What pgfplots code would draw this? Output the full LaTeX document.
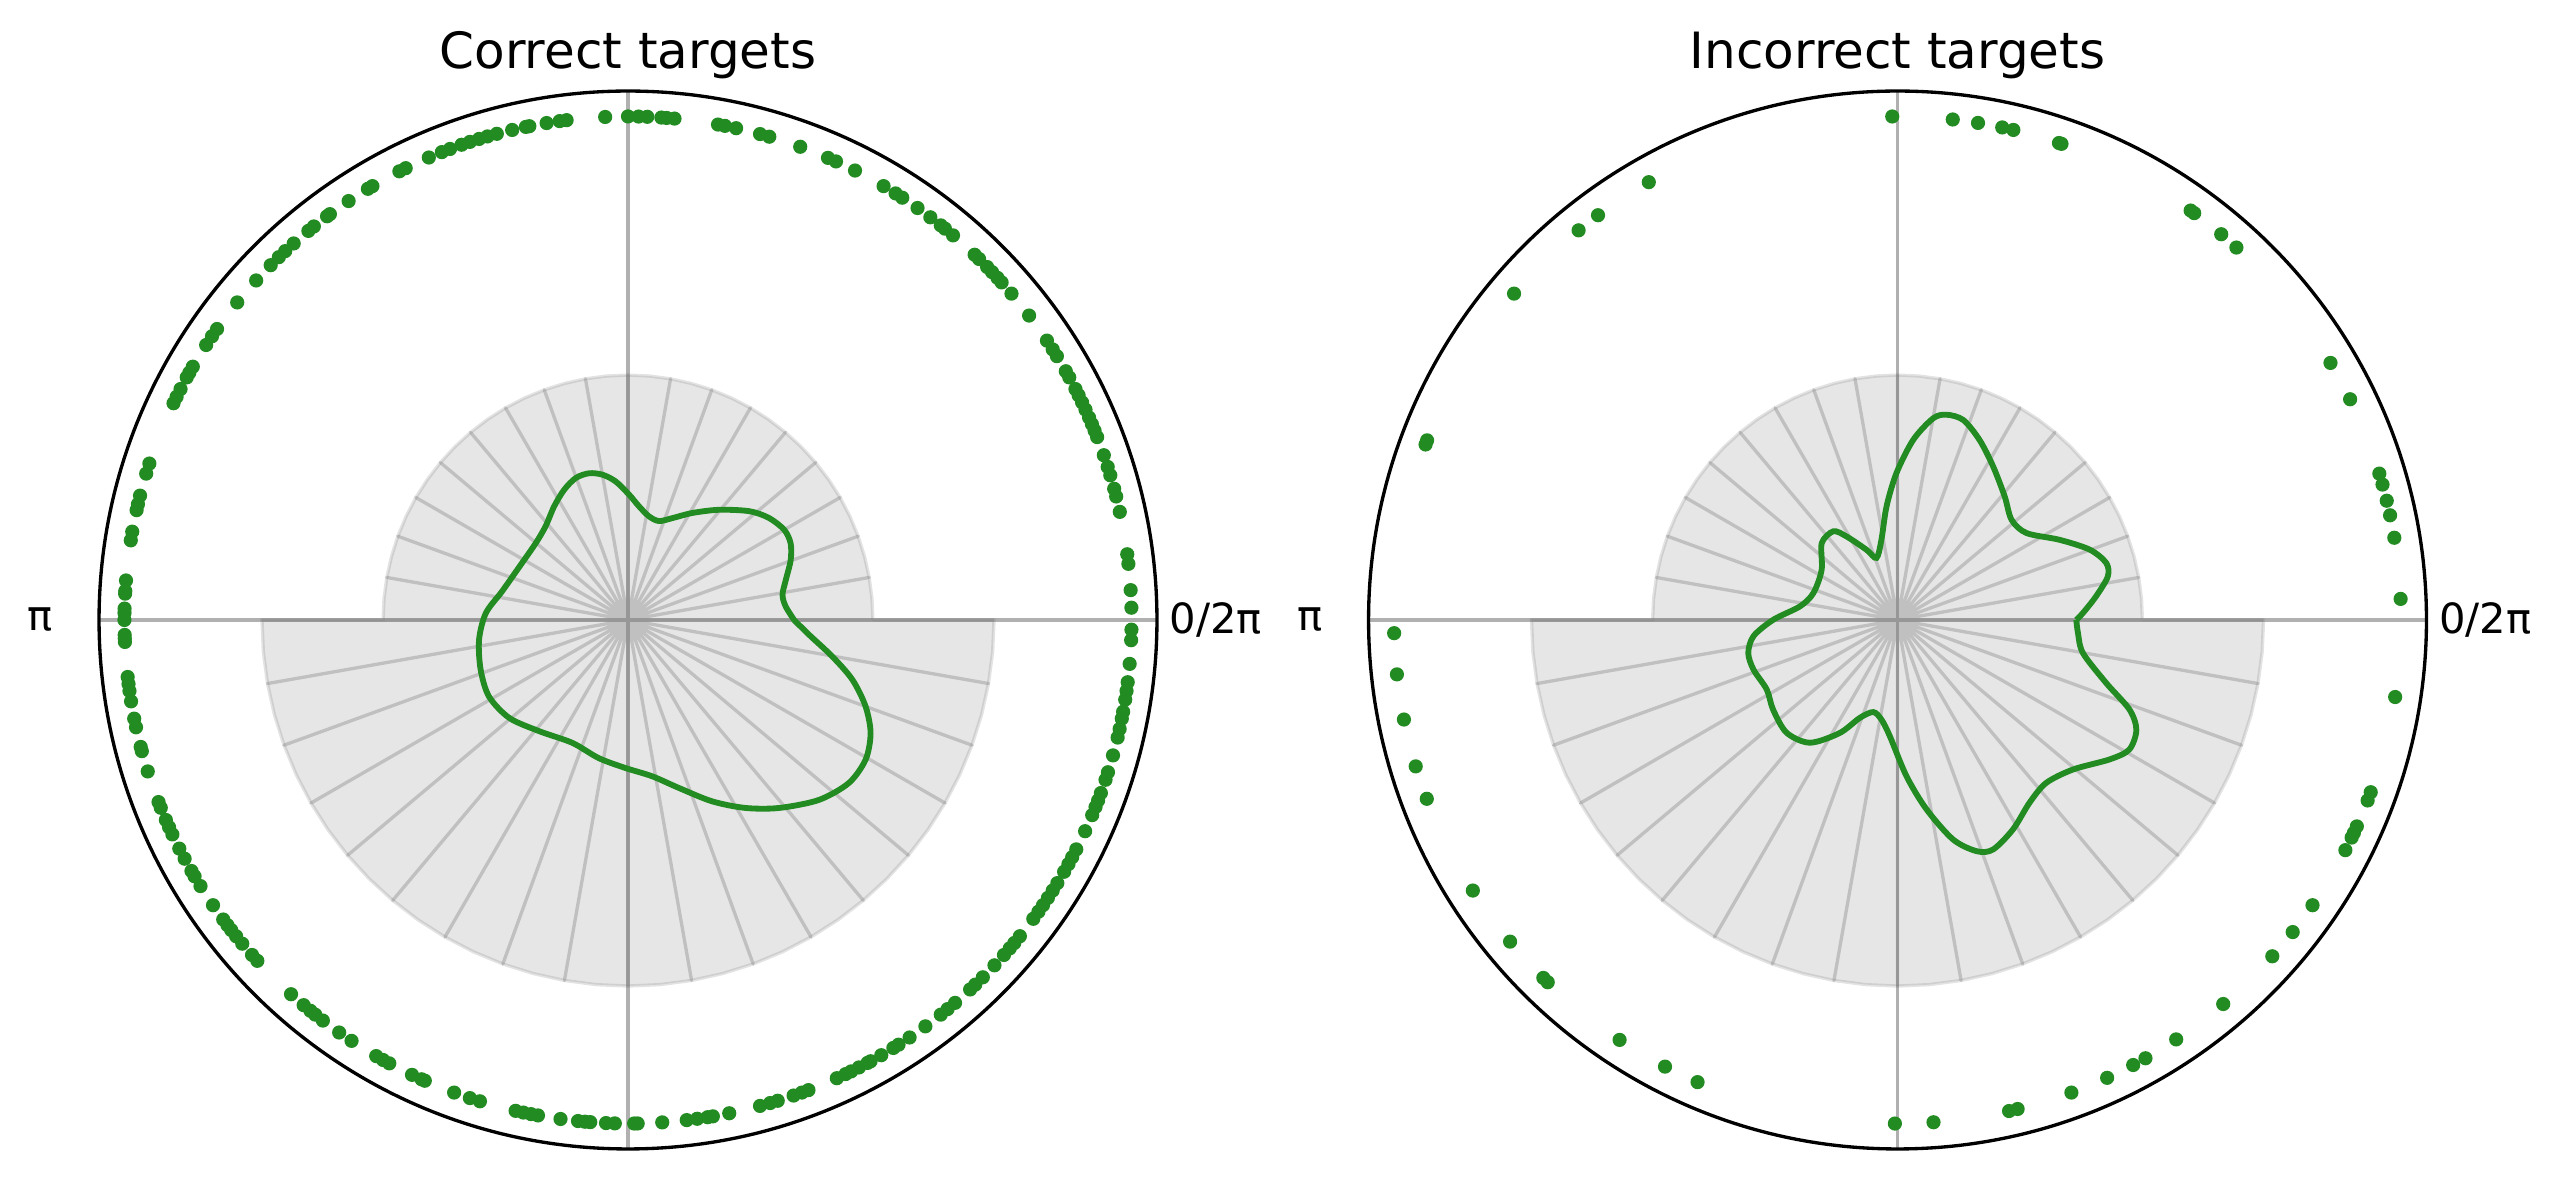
\documentclass[border=0pt]{standalone}
\usepackage{fontspec}
\setmainfont{DejaVu Sans}
\usepackage{pgfplots}
\usepackage{pgfplotstable}
\pgfplotsset{compat=1.18}
\usepgfplotslibrary{polar}

\definecolor{dotgreen}{HTML}{228B22}
\definecolor{gridgray}{HTML}{B0B0B0}

% Outline of the 36 histogram bars (10 degree bins): upper half height 0.463, lower half 0.692
\pgfplotstableread{
a r
0 0.463
5 0.463
10 0.463
15 0.463
20 0.463
25 0.463
30 0.463
35 0.463
40 0.463
45 0.463
50 0.463
55 0.463
60 0.463
65 0.463
70 0.463
75 0.463
80 0.463
85 0.463
90 0.463
95 0.463
100 0.463
105 0.463
110 0.463
115 0.463
120 0.463
125 0.463
130 0.463
135 0.463
140 0.463
145 0.463
150 0.463
155 0.463
160 0.463
165 0.463
170 0.463
175 0.463
180 0.463
180 0.692
185 0.692
190 0.692
195 0.692
200 0.692
205 0.692
210 0.692
215 0.692
220 0.692
225 0.692
230 0.692
235 0.692
240 0.692
245 0.692
250 0.692
255 0.692
260 0.692
265 0.692
270 0.692
275 0.692
280 0.692
285 0.692
290 0.692
295 0.692
300 0.692
305 0.692
310 0.692
315 0.692
320 0.692
325 0.692
330 0.692
335 0.692
340 0.692
345 0.692
350 0.692
355 0.692
360 0.692
360 0.463
}\barsoutline

% Bar edges: radial lines from the centre to each bin boundary
\pgfplotstableread{
a r
0 0
0 0.463
0 0
10 0.463
0 0
20 0.463
0 0
30 0.463
0 0
40 0.463
0 0
50 0.463
0 0
60 0.463
0 0
70 0.463
0 0
80 0.463
0 0
90 0.463
0 0
100 0.463
0 0
110 0.463
0 0
120 0.463
0 0
130 0.463
0 0
140 0.463
0 0
150 0.463
0 0
160 0.463
0 0
170 0.463
0 0
180 0.463
0 0
180 0.692
0 0
190 0.692
0 0
200 0.692
0 0
210 0.692
0 0
220 0.692
0 0
230 0.692
0 0
240 0.692
0 0
250 0.692
0 0
260 0.692
0 0
270 0.692
0 0
280 0.692
0 0
290 0.692
0 0
300 0.692
0 0
310 0.692
0 0
320 0.692
0 0
330 0.692
0 0
340 0.692
0 0
350 0.692
0 0
360 0.692
}\barspokes

\tikzset{phaselabel/.style={font=\fontsize{10}{12}\selectfont, anchor=center}}

\pgfplotsset{
  phaseplot/.style={
    scale only axis, width=253.9pt, height=253.9pt,
    anchor=center, clip=false,
    xmin=0, xmax=360, ymin=0, ymax=1,
    xtick={0,90,180,270}, xticklabels={,,,},
    xticklabel style={inner sep=0pt, text opacity=0},
    ytick=\empty,
    xmajorgrids, ymajorgrids=false,
    major grid style={draw=gridgray, line width=0.8pt},
    major tick length=0pt,
    axis line style={black, line width=0.8pt},
    y axis line style={draw=none},
    every axis title shift=0pt,
    title style={at={(0.5,1)}, anchor=base, yshift=5.5pt,
      font=\fontsize{12}{14}\selectfont},
  },
  barfill/.style={draw=none, fill=gray, fill opacity=0.2},
  barspoke/.style={draw=gray, draw opacity=0.37, line width=0.8pt, line join=round},
  barrim/.style={draw=gray, draw opacity=0.22, line width=0.8pt},
  phasedots/.style={only marks, mark=*, mark size=1.5pt, color=dotgreen},
  phasecurve/.style={no marks, smooth, tension=0.5, color=dotgreen, line width=1.4pt},
}

\begin{document}
\begin{tikzpicture}
\path (0,0) rectangle (614.4pt,282.96pt);

% ---------------- left: correct targets ----------------
\begin{polaraxis}[phaseplot, at={(150.72pt,134.16pt)}, title={Correct targets}]
\addplot[barfill] table {\barsoutline};
\addplot[barspoke] table {\barspokes};
\addplot[barrim] table {\barsoutline};
\addplot[phasedots] coordinates {
(1.4,0.952) (3.4,0.952) (6.4,0.952) (7.5,0.952) (12.4,0.952) (14.2,0.952) (15.1,0.952)
(16.7,0.952) (17.7,0.952) (19.1,0.952) (21.3,0.952) (22.1,0.952) (22.9,0.952) (23.7,0.952)
(24.7,0.952) (25.6,0.952) (26.5,0.952) (27.3,0.952) (28.8,0.952) (29.6,0.952) (31.6,0.952)
(32.5,0.952) (33.7,0.952) (37.2,0.952) (40.4,0.952) (42.1,0.952) (42.8,0.952) (43.7,0.952)
(44.5,0.952) (45.8,0.952) (46.5,0.952) (49.8,0.952) (51.0,0.952) (51.6,0.952) (53.1,0.952)
(54.9,0.952) (57.0,0.952) (57.9,0.952) (59.5,0.952) (63.2,0.952) (65.6,0.952) (66.6,0.952)
(70.0,0.952) (73.7,0.952) (74.8,0.952) (77.6,0.952) (78.9,0.952) (79.7,0.952) (84.7,0.952)
(85.6,0.952) (86.2,0.952) (87.8,0.952) (88.8,0.952) (90.0,0.952)
(92.6,0.952) (97.0,0.952) (97.8,0.952) (99.3,0.952) (101.3,0.952) (101.7,0.952) (103.3,0.952)
(105.1,0.952) (106.2,0.952) (107.2,0.952) (108.3,0.952) (109.3,0.952) (110.7,0.952) (111.7,0.952)
(113.3,0.952) (116.2,0.952) (117.0,0.952) (120.5,0.952) (121.1,0.952) (123.7,0.952) (126.3,0.952)
(126.7,0.952) (128.6,0.952) (129.4,0.952) (131.6,0.952) (132.9,0.952) (133.9,0.952) (135.2,0.952)
(137.6,0.952) (140.9,0.952) (144.7,0.952) (145.7,0.952) (146.9,0.952) (149.8,0.952) (150.6,0.952)
(151.2,0.952) (152.7,0.952) (153.7,0.952) (154.5,0.952) (161.9,0.952) (163.1,0.952) (165.7,0.952)
(166.7,0.952) (167.4,0.952) (169.9,0.952) (170.9,0.952) (175.5,0.952) (176.7,0.952) (177.0,0.952)
(178.7,0.952) (179.2,0.952) (180.0,0.952)
(181.7,0.952) (182.1,0.952) (182.5,0.952) (186.5,0.952) (187.3,0.952) (188.1,0.952) (189.3,0.952)
(191.3,0.952) (192.3,0.952) (194.6,0.952) (195.1,0.952) (197.5,0.952) (201.2,0.952) (201.9,0.952)
(203.4,0.952) (204.3,0.952) (205.2,0.952) (207.0,0.952) (208.3,0.952) (209.9,0.952) (210.6,0.952)
(211.9,0.952) (214.5,0.952) (216.5,0.952) (217.3,0.952) (218.0,0.952) (218.9,0.952) (220.0,0.952)
(221.7,0.952) (222.6,0.952) (228.0,0.952) (229.9,0.952) (230.9,0.952) (231.6,0.952) (232.7,0.952)
(235.0,0.952) (236.7,0.952) (240.0,0.952) (240.9,0.952) (241.7,0.952) (244.6,0.952) (245.8,0.952)
(246.2,0.952) (249.8,0.952) (251.7,0.952) (252.9,0.952) (257.1,0.952) (258.0,0.952) (258.9,0.952)
(259.7,0.952) (262.3,0.952) (264.3,0.952) (265.1,0.952) (265.7,0.952) (267.5,0.952) (268.5,0.952)
(270.7,0.952)
(271.1,0.952) (273.9,0.952) (276.7,0.952) (277.9,0.952) (279.1,0.952) (279.7,0.952) (281.6,0.952)
(285.2,0.952) (286.4,0.952) (287.3,0.952) (289.2,0.952) (290.2,0.952) (291.0,0.952) (294.5,0.952)
(295.6,0.952) (296.3,0.952) (297.3,0.952) (298.4,0.952) (298.8,0.952) (300.2,0.952) (301.8,0.952)
(302.5,0.952) (304.0,0.952) (306.2,0.952) (308.4,0.952) (309.4,0.952) (310.5,0.952) (312.8,0.952)
(313.6,0.952) (314.8,0.952) (316.7,0.952) (318.3,0.952) (319.3,0.952) (320.1,0.952) (321.1,0.952)
(323.6,0.952) (324.6,0.952) (325.5,0.952) (326.5,0.952) (327.5,0.952) (328.5,0.952) (330.0,0.952)
(331.0,0.952) (331.9,0.952) (332.9,0.952) (335.2,0.952) (337.2,0.952) (338.2,0.952) (339.0,0.952)
(339.9,0.952) (341.5,0.952) (342.4,0.952) (344.4,0.952) (346.5,0.952) (347.5,0.952) (348.7,0.952)
(349.5,0.952) (350.9,0.952) (351.9,0.952) (352.9,0.952) (355.0,0.952) (357.7,0.952) (358.9,0.952)
};
\addplot[phasecurve] coordinates {
(0,0.314) (5,0.299) (9.3,0.296) (14.3,0.308) (20.3,0.328) (25.3,0.340) (30,0.341)
(35.9,0.329) (41.9,0.308) (50.5,0.270) (59,0.236) (66.5,0.210) (72.6,0.196) (78.6,0.200)
(84.5,0.216) (89.5,0.237) (95.1,0.263) (100,0.279) (104.9,0.287) (110.2,0.286) (116.2,0.274)
(123.1,0.256) (131.3,0.236) (140.2,0.227) (152.7,0.228) (167.1,0.244) (177.2,0.269)
(187.5,0.284) (198.6,0.294) (208.8,0.300) (219.5,0.291) (231.4,0.269) (245.6,0.255)
(258.1,0.267) (269.1,0.280) (278.8,0.299) (286.9,0.332) (294.9,0.378) (302,0.419)
(308.8,0.456) (316.7,0.496) (323.6,0.519) (329.6,0.521) (335,0.506) (340,0.478)
(345.1,0.439) (349.9,0.392) (355.4,0.343) (360,0.314)
};
\node[phaselabel] at (axis cs:0,1.1115) {0/2π};
\node[phaselabel] at (axis cs:180,1.1115) {π};
\end{polaraxis}

% ---------------- right: incorrect targets ----------------
\begin{polaraxis}[phaseplot, at={(455.4pt,134.16pt)}, title={Incorrect targets}]
\addplot[barfill] table {\barsoutline};
\addplot[barspoke] table {\barspokes};
\addplot[barrim] table {\barsoutline};
\addplot[phasedots] coordinates {
(2.4,0.952) (9.4,0.952) (12.0,0.952) (13.7,0.952) (15.6,0.952) (16.9,0.952) (26.0,0.952)
(30.7,0.952) (47.7,0.952) (50.0,0.952) (53.9,0.952) (54.4,0.952) (71.0,0.952) (71.3,0.952)
(76.7,0.952) (78.0,0.952) (80.8,0.952) (83.7,0.952) (90.6,0.952)
(119.6,0.952) (126.5,0.952) (129.3,0.952) (139.6,0.952) (159.1,0.952) (159.6,0.952)
(181.5,0.952) (186.2,0.952) (191.4,0.952) (196.9,0.952) (200.8,0.952) (212.5,0.952)
(219.7,0.952) (225.3,0.952) (226.0,0.952) (236.5,0.952) (242.5,0.952) (246.6,0.952)
(269.7,0.952) (274.1,0.952) (282.8,0.952) (283.8,0.952) (290.2,0.952) (294.6,0.952)
(297.9,0.952) (299.5,0.952) (303.6,0.952) (310.3,0.952) (318.1,0.952) (321.7,0.952)
(325.5,0.952) (332.8,0.952) (334.4,0.952) (335.0,0.952) (335.8,0.952) (339.0,0.952)
(340.0,0.952) (351.2,0.952)
};
\addplot[phasecurve] coordinates {
(0,0.338) (2.2,0.351) (6.8,0.378) (11.7,0.406) (15.3,0.409) (20.1,0.387) (26.3,0.342)
(34,0.294) (41.3,0.287) (49,0.309) (58.1,0.342) (65.5,0.374) (71.8,0.398) (76.6,0.399)
(80,0.387) (85,0.342) (90.4,0.278) (95.5,0.216) (101.3,0.155) (108.7,0.124) (113.8,0.145)
(121.4,0.185) (125.9,0.207) (134.6,0.204) (146.5,0.172) (162.2,0.167) (172,0.186)
(179.9,0.235) (186.4,0.274) (192.5,0.289) (199,0.288) (208,0.280) (215.8,0.290)
(225.5,0.299) (234.5,0.285) (242.9,0.240) (249,0.198) (255.3,0.180) (260.9,0.191)
(266.2,0.220) (273.3,0.296) (278.7,0.362) (284.2,0.428) (288.9,0.462) (292.6,0.470)
(298.9,0.452) (305.9,0.426) (312.4,0.417) (319.6,0.436) (326.7,0.480) (330.8,0.502)
(335.3,0.497) (338.9,0.470) (343.2,0.412) (349.9,0.356) (355.9,0.342) (360,0.338)
};
\node[phaselabel] at (axis cs:0,1.1115) {0/2π};
\node[phaselabel] at (axis cs:180,1.1115) {π};
\end{polaraxis}
\end{tikzpicture}
\end{document}
